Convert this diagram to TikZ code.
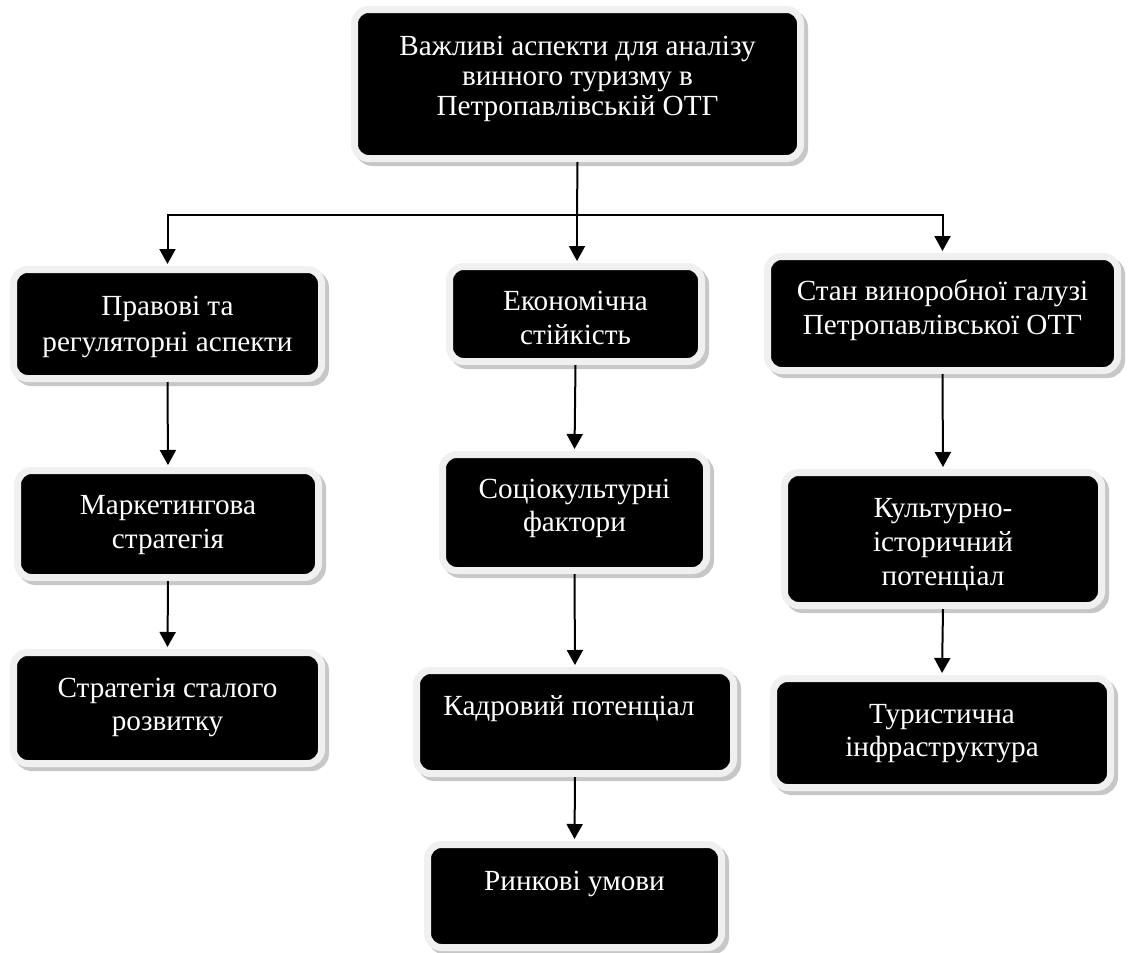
\documentclass[tikz,border=0pt]{standalone}
\usepackage{fontspec}
\setmainfont{Liberation Serif}
\usetikzlibrary{arrows.meta,shadows}
% invisible struts that set how far the text sits from the top and bottom of a box
\newcommand{\boxtop}[1]{\rule{0pt}{#1pt}}
\newcommand{\boxfoot}[1]{\rule[-#1pt]{0pt}{#1pt}}

\begin{document}
\begin{tikzpicture}[
                x=1pt, y=-1pt,
                aspect/.style={rectangle,rounded corners=14pt,fill=black,draw=black!6,line width=7pt,
                    text=white,align=center,inner sep=0pt,font=\fontsize{29.2}{33.6}\selectfont,
                    drop shadow={shadow xshift=4pt,shadow yshift=-4pt,opacity=1,fill=black!22,draw=black!22,line width=7pt}},
                link/.style={-{Triangle[length=15pt,width=16pt]},line width=2pt,shorten >=2pt}
            ]
                \useasboundingbox (0,0) rectangle (1128,953);
                \node (goal)     [aspect,minimum width=446pt,minimum height=149pt,font=\fontsize{29.2}{30}\selectfont] at (577.5,84)
                    {\boxtop{21}Важливі аспекти для аналізу\\винного туризму в\\Петропавлівській ОТГ\boxfoot{19}};
                \node (legal)    [aspect,minimum width=308pt,minimum height=109pt,font=\fontsize{29.2}{36}\selectfont] at (167.5,324)
                    {\boxtop{27}Правові та\\регуляторні аспекти\boxfoot{8}};
                \node (econ)     [aspect,minimum width=252pt,minimum height=95pt]  at (575.5,314)
                    {\boxtop{35}Економічна\\стійкість\boxfoot{8}};
                \node (wine)     [aspect,minimum width=350pt,minimum height=114pt] at (942.5,313.5)
                    {\boxtop{21}Стан виноробної галузі\\Петропавлівської ОТГ\boxfoot{13}};
                \node (market)   [aspect,minimum width=301pt,minimum height=107pt] at (168,524)
                    {\boxtop{23}Маркетингова\\стратегія\boxfoot{8}};
                \node (socio)    [aspect,minimum width=264pt,minimum height=116pt] at (574.5,512.5)
                    {\boxtop{21}Соціокультурні\\фактори\boxfoot{16}};
                \node (heritage) [aspect,minimum width=317pt,minimum height=133pt] at (943,539)
                    {\boxtop{33}Культурно-\\історичний\\потенціал\boxfoot{8}};
                \node (sustain)  [aspect,minimum width=308pt,minimum height=111pt] at (167.5,708)
                    {\boxtop{21}Стратегія сталого\\розвитку\boxfoot{9}};
                \node (staff)    [aspect,minimum width=317pt,minimum height=103pt] at (575,722)
                    {\boxtop{21}Кадровий потенціал\hspace*{12pt}\boxfoot{35}};
                \node (infra)    [aspect,minimum width=337pt,minimum height=109pt] at (942,733)
                    {\boxtop{22}Туристична\\інфраструктура\boxfoot{8}};
                \node (trade)    [aspect,minimum width=294pt,minimum height=103pt] at (574.5,896)
                    {\boxtop{21}Ринкові умови\boxfoot{33}};
                % branching under the top box
                \coordinate (split) at (577,215);
                \draw[line width=2pt] (goal.south) -- (split);
                \draw[link] (split) -| (legal.north);
                \draw[link] (split) -| (wine.north);
                \draw[link] (split) -- (split |- econ.north);
                % columns
                \draw[link] (legal.south) -- (market.north);
                \draw[link] (market.south) -- (sustain.north);
                \draw[link] (econ.south) -- (socio.north);
                \draw[link] (socio.south) -- (staff.north);
                \draw[link] (staff.south) -- (trade.north);
                \draw[link] (wine.south) -- (heritage.north);
                \draw[link] (heritage.south) -- (infra.north);
            \end{tikzpicture}
\end{document}
